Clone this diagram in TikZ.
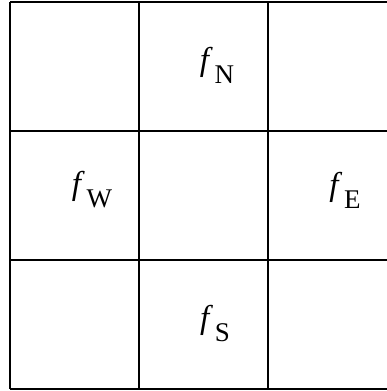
\documentclass[tikz,border=0pt]{standalone}
\usepackage{fontspec}
\setmainfont{Liberation Serif}
\usetikzlibrary{positioning}

\newcommand{\flux}[1]{{\itshape f\,}\raisebox{-13pt}{\fontsize{27}{29}\selectfont #1}}

\begin{document}
\begin{tikzpicture}[x=1pt, y=1pt, line width=2pt]
                \useasboundingbox (0,0) rectangle (387,391);
                \clip (0,0) rectangle (387,391);
                
                \foreach \x in {10,139,268,397}
                    \draw (\x,2) -- (\x,389);
                \foreach \y in {2,131,260,389}
                    \draw (10,\y) -- (397,\y);
                
                \tikzset{every node/.style={inner sep=0pt, font=\fontsize{33}{36}\selectfont}}
                \node (fN) at (217,326) {\flux{N}};
                \node (fW) at (92,201) {\flux{W}};
                \node (fE) at (345,201) {\flux{E}};
                \node (fS) at (215,67) {\flux{S}};
            \end{tikzpicture}
\end{document}
